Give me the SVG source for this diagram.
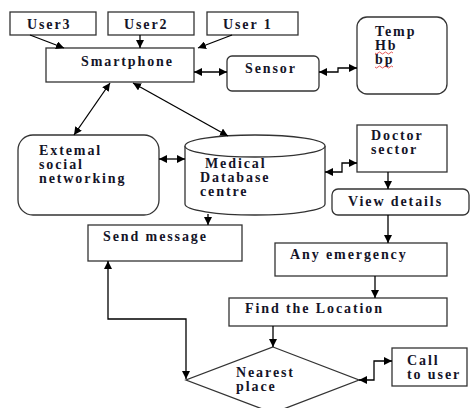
<svg xmlns="http://www.w3.org/2000/svg" width="470" height="408" viewBox="0 0 470 408">
<defs>
<style>
.box{fill:#fff;stroke:#333;stroke-width:1.3}
.t{font-size:14px;font-weight:bold;letter-spacing:1.9px;fill:#141428}
.c{fill:none;stroke:#000;stroke-width:1.3}
.sq{fill:none;stroke:#e03030;stroke-width:0.8}
</style>
<marker id="ah" viewBox="0 0 10 10" refX="10" refY="5" markerWidth="8" markerHeight="8" markerUnits="userSpaceOnUse" orient="auto-start-reverse">
<path d="M0,0 L10,5 L0,10 Z" fill="#000"/>
</marker>
</defs>
<rect width="470" height="408" fill="#fff"/>
<g font-family="Liberation Serif, serif">
<g id="user3"><rect class="box" x="10" y="12" width="86" height="23"/><text class="t" x="27" y="29">User3</text></g>
<g id="user2"><rect class="box" x="108" y="12" width="86" height="23"/><text class="t" x="124" y="29">User2</text></g>
<g id="user1"><rect class="box" x="207" y="12" width="91" height="23"/><text class="t" x="223" y="29">User 1</text></g>
<g id="smartphone"><rect class="box" x="46" y="48" width="148" height="34"/><text class="t" x="81" y="66">Smartphone</text></g>
<g id="sensor"><rect class="box" x="227" y="56" width="92" height="35" rx="5"/><text class="t" x="245" y="73">Sensor</text></g>
<g id="temp"><rect class="box" x="357" y="17" width="90" height="77" rx="10"/>
<text class="t" x="375" y="36">Temp</text><text class="t" x="375" y="50">Hb</text><text class="t" x="375" y="64">bp</text>
<path class="sq" d="M375,53 q1.5,2 3,0 t3,0 t3,0 t3,0 t3,0 t3,0"/>
<path class="sq" d="M375,67 q1.5,2 3,0 t3,0 t3,0 t3,0 t3,0 t3,0"/>
</g>
<g id="external"><rect class="box" x="18" y="135" width="141" height="80" rx="15"/>
<text class="t" x="39" y="155">Extemal</text><text class="t" x="39" y="169">social</text><text class="t" x="39" y="183">networking</text></g>
<g id="medical">
<path class="box" d="M185,146 L185,204 A70,11 0 0 0 325,204 L325,146"/>
<ellipse class="box" cx="255" cy="146" rx="70" ry="11"/>
<text class="t" x="205" y="168">Medical</text><text class="t" x="200" y="182">Database</text><text class="t" x="200" y="196">centre</text></g>
<g id="doctor"><rect class="box" x="357" y="125" width="90" height="47"/><text class="t" x="371" y="140">Doctor</text><text class="t" x="371" y="154">sector</text></g>
<g id="view"><rect class="box" x="332" y="189" width="137" height="26" rx="6"/><text class="t" x="348" y="206">View details</text></g>
<g id="send"><rect class="box" x="88" y="225" width="154" height="36"/><text class="t" x="103" y="241">Send message</text></g>
<g id="emergency"><rect class="box" x="275" y="243" width="172" height="33"/><text class="t" x="290" y="259">Any emergency</text></g>
<g id="location"><rect class="box" x="229" y="298" width="218" height="28"/><text class="t" x="245" y="313">Find the Location</text></g>
<g id="nearest"><path class="box" d="M273,347 L359,380 L273,413 L186,380 Z"/><text class="t" x="236" y="377">Nearest</text><text class="t" x="236" y="391">place</text></g>
<g id="call"><rect class="box" x="392" y="348" width="75" height="38"/><text class="t" x="407" y="365">Call</text><text class="t" x="407" y="379">to user</text></g>
</g>
<g id="connectors">
<path class="c" d="M30,35 L64,48" marker-end="url(#ah)"/>
<path class="c" d="M140,35 L140,48" marker-end="url(#ah)"/>
<path class="c" d="M232,35 L198,48" marker-end="url(#ah)"/>
<path class="c" d="M194,72 L227,72" marker-start="url(#ah)" marker-end="url(#ah)"/>
<path class="c" d="M319,72 L338,72 L338,68 L357,68" marker-start="url(#ah)" marker-end="url(#ah)"/>
<path class="c" d="M110,83 L74,135" marker-start="url(#ah)" marker-end="url(#ah)"/>
<path class="c" d="M133,83 L228,136" marker-start="url(#ah)" marker-end="url(#ah)"/>
<path class="c" d="M159,159 L185,159" marker-start="url(#ah)" marker-end="url(#ah)"/>
<path class="c" d="M325,172 L342,172 L342,163 L357,163" marker-start="url(#ah)" marker-end="url(#ah)"/>
<path class="c" d="M388,172 L388,189" marker-end="url(#ah)"/>
<path class="c" d="M388,215 L388,243" marker-end="url(#ah)"/>
<path class="c" d="M208,214 L208,225" marker-end="url(#ah)"/>
<path class="c" d="M375,276 L375,298" marker-end="url(#ah)"/>
<path class="c" d="M273,326 L273,347" marker-end="url(#ah)"/>
<path class="c" d="M108,261 L108,319 L186,319 L186,379" marker-start="url(#ah)" marker-end="url(#ah)"/>
<path class="c" d="M359,380 L374,380 L374,361 L392,361" marker-start="url(#ah)" marker-end="url(#ah)"/>
</g>
</svg>
